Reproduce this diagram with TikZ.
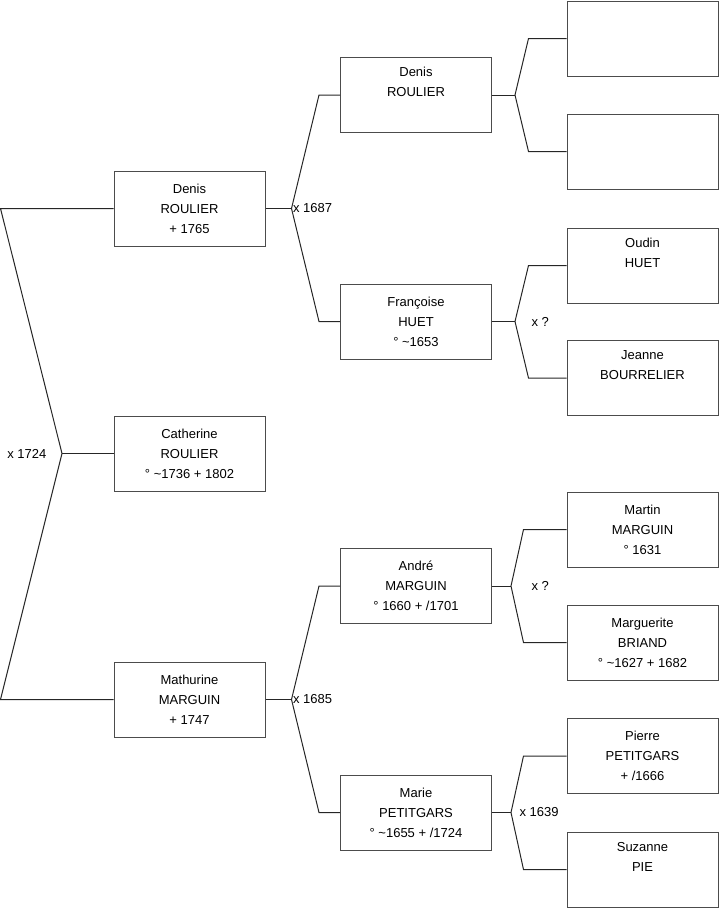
\documentclass[tikz,border=0pt]{standalone}
\usepackage{fontspec}
\setmainfont{Liberation Sans}
\usepackage{tikz}
\usetikzlibrary{positioning,calc}
\tikzstyle{pers}= [rectangle, draw=black!70, line width=0.75pt, minimum width=113.25pt, minimum height=56.25pt, inner sep=0pt, align=center, font=\fontsize{9.75}{15}\selectfont]
\tikzstyle{lien}= [draw=black!85, line width=0.75pt]
\tikzstyle{mar}= [inner sep=1pt, font=\fontsize{9.75}{12}\selectfont]

\begin{document}
\begin{tikzpicture}[x=0.75pt,y=-0.75pt]
					\useasboundingbox (0,0) rectangle (719,908);
					% generation 1
					\node[pers] at (189.5,208.5) (denis1) {Denis\\ROULIER\\+ 1765};
					\node[pers] at (189.5,453.5) (catherine) {Catherine\\ROULIER\\° \textasciitilde 1736 + 1802};
					\node[pers] at (189.5,699.5) (mathurine) {Mathurine\\MARGUIN\\+ 1747};
					% generation 2
					\node[pers] at (416,95) (denis2) {Denis\\ROULIER\\\strut};
					\node[pers] at (416,321.5) (francoise) {Françoise\\HUET\\° \textasciitilde 1653};
					\node[pers] at (416,586) (andre) {André\\MARGUIN\\° 1660 + /1701};
					\node[pers] at (416,812.5) (marie) {Marie\\PETITGARS\\° \textasciitilde 1655 + /1724};
					% generation 3
					\node[pers] at (642.5,38.5) (inc1) {};
					\node[pers] at (642.5,151.5) (inc2) {};
					\node[pers] at (642.5,265.5) (oudin) {Oudin\\HUET\\\strut};
					\node[pers] at (642.5,378) (jeanne) {Jeanne\\BOURRELIER\\\strut};
					\node[pers] at (642.5,529.5) (martin) {Martin\\MARGUIN\\° 1631};
					\node[pers] at (642.5,642.5) (marguerite) {Marguerite\\BRIAND\\° \textasciitilde 1627 + 1682};
					\node[pers] at (642.5,756) (pierre) {Pierre\\PETITGARS\\+ /1666};
					\node[pers] at (642.5,869.5) (suzanne) {Suzanne\\PIE\\\strut};
					% junctions
					\coordinate (j0) at (62,453.5);
					\coordinate (j1) at (291.5,208.5);
					\coordinate (j2) at (291.5,699.5);
					\coordinate (j3) at (515,95);
					\coordinate (j4) at (515,321.5);
					\coordinate (j5) at (511,586);
					\coordinate (j6) at (511,812.5);
					\node[mar, anchor=east] at (48,453.5) (m0) {x 1724};
					\node[mar, anchor=west] at (j1) (m1) {x 1687};
					\node[mar, anchor=west] at (j2) (m2) {x 1685};
					\node[mar, anchor=west] at (530,321.5) (m4) {x ?};
					\node[mar, anchor=west] at (530,586) (m5) {x ?};
					\node[mar, anchor=west] at (518,812.5) (m6) {x 1639};
					\path[lien] (catherine.west) -- (j0);
					\path[lien] (denis1.west) -- ++(-113,0) -- (j0) -- ($(mathurine.west)+(-113,0)$) -- (mathurine.west);
					\path[lien] (denis1.east) -- (j1) (mathurine.east) -- (j2) (denis2.east) -- (j3) (francoise.east) -- (j4) (andre.east) -- (j5) (marie.east) -- (j6);
					\path[lien] (denis2.west) -- ++(-21,0) -- (j1) -- ($(francoise.west)+(-21,0)$) -- (francoise.west);
					\path[lien] (andre.west) -- ++(-21,0) -- (j2) -- ($(marie.west)+(-21,0)$) -- (marie.west);
					\path[lien] (inc1.west) -- ++(-38,0) -- (j3) -- ($(inc2.west)+(-38,0)$) -- (inc2.west);
					\path[lien] (oudin.west) -- ++(-38,0) -- (j4) -- ($(jeanne.west)+(-38,0)$) -- (jeanne.west);
					\path[lien] (martin.west) -- ++(-43,0) -- (j5) -- ($(marguerite.west)+(-43,0)$) -- (marguerite.west);
					\path[lien] (pierre.west) -- ++(-43,0) -- (j6) -- ($(suzanne.west)+(-43,0)$) -- (suzanne.west);
				\end{tikzpicture}
\end{document}
